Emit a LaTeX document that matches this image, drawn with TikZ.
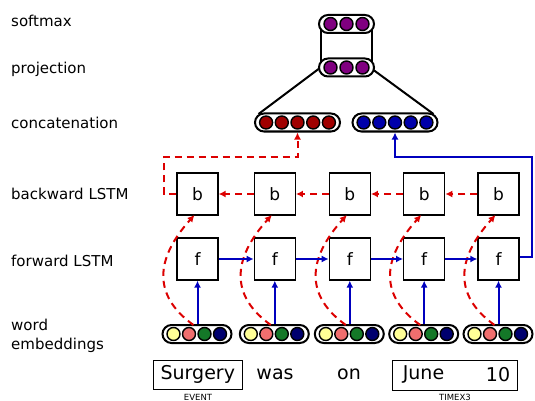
\documentclass[tikz,border=0pt]{standalone}
\usepackage{fontspec}
\setmainfont{DejaVu Sans}
\usetikzlibrary{shapes.misc,arrows.meta}
\definecolor{cpurple}{RGB}{128,0,128}
\definecolor{cdred}{RGB}{160,0,0}
\definecolor{cdblue}{RGB}{0,0,170}
\definecolor{cyel}{RGB}{255,255,150}
\definecolor{csalmon}{RGB}{240,110,110}
\definecolor{cgreen}{RGB}{20,120,40}
\definecolor{cnavy}{RGB}{0,0,110}
\definecolor{lblue}{RGB}{0,0,190}
\definecolor{lred}{RGB}{220,0,0}
\tikzset{
  lbl/.style={anchor=west, font=\fontsize{15}{20}\selectfont, inner sep=0pt, align=left},
  pill/.style={draw, line width=2pt, rounded rectangle, fill=white, minimum height=18pt, inner sep=0pt},
  dot/.style={circle, draw, line width=1.4pt, minimum size=13pt, inner sep=0pt},
  cell/.style={draw, line width=1.3pt, minimum width=41pt, minimum height=42pt, inner sep=0pt, font=\fontsize{17}{20}\selectfont},
  word/.style={inner sep=0pt, font=\fontsize{19}{22}\selectfont},
  wbox/.style={draw, line width=1pt, inner sep=0pt},
  tag/.style={inner sep=0pt, font=\fontsize{8.5}{10}\selectfont},
  fwd/.style={lblue, line width=2pt, -{Latex[length=7pt,width=7pt]}},
  bwd/.style={lred, line width=2pt, dash pattern=on 7pt off 5pt, -{Latex[length=7pt,width=7pt]}},
  link/.style={line width=2pt}
}
\begin{document}
\begin{tikzpicture}[x=1pt,y=-1pt]
\useasboundingbox (0,0) rectangle (535,401);
% labels
\node[lbl] (Lsoft) at (11,21) {softmax};
\node[lbl] (Lproj) at (11,69) {projection};
\node[lbl] (Lconc) at (11,123) {concatenation};
\node[lbl] (Lback) at (11,194) {backward LSTM};
\node[lbl] (Lfwd) at (11,261) {forward LSTM};
\node[lbl] (Lemb) at (11,336) {word\\[-1pt]embeddings};
% top links
\coordinate (sL) at (321,24);
\coordinate (sR) at (372,24);
\coordinate (pL) at (321,68);
\coordinate (pR) at (372,68);
\draw[link] (sL) -- (pL);
\draw[link] (sR) -- (pR);
\coordinate (pLo) at (318.5,69);
\coordinate (pRo) at (373.5,70);
\coordinate (cLt) at (258.5,114);
\coordinate (cRt) at (433.5,114);
\draw[link] (pLo) -- (cLt);
\draw[link] (pRo) -- (cRt);
% softmax and projection pills
\node[pill, minimum width=55pt] (soft) at (346.5,24) {};
\node[pill, minimum width=55pt] (proj) at (346.5,67.5) {};
\foreach \i/\dx in {1/-16,2/0,3/16} {
  \node[dot, fill=cpurple] (s\i) at (346.5+\dx,24) {};
  \node[dot, fill=cpurple] (p\i) at (346.5+\dx,67.5) {};
}
% concatenation pills
\node[pill, minimum width=85pt] (concL) at (297.5,122.5) {};
\node[pill, minimum width=85pt] (concR) at (395,122.5) {};
\foreach \i/\dx in {1/-31.4,2/-15.7,3/0,4/15.7,5/31.4} {
  \node[dot, fill=cdred] (cl\i) at (297.5+\dx,122.5) {};
  \node[dot, fill=cdblue] (cr\i) at (395+\dx,122.5) {};
}
% LSTM cells and embeddings
\foreach \i/\x in {1/197.5,2/274.8,3/349.8,4/424.2,5/498.5} {
  \node[cell] (b\i) at (\x,194) {b};
  \node[cell] (f\i) at (\x,259) {f};
  \node[pill, minimum width=69pt] (e\i) at (\x-0.5,334) {};
  \node[dot, fill=cyel] (e\i a) at (\x-24,334) {};
  \node[dot, fill=csalmon] (e\i b) at (\x-8.5,334) {};
  \node[dot, fill=cgreen] (e\i c) at (\x+7,334) {};
  \node[dot, fill=cnavy] (e\i d) at (\x+22.5,334) {};
  \draw[fwd] (e\i.north -| f\i.south) -- (f\i.south);
  \coordinate (es\i) at (\x-4,325);
  \coordinate (be\i) at (\x-3,215);
  \draw[bwd] (es\i) .. controls +(-35,-25) and +(-45,50) .. (be\i);
}
\foreach \i/\j in {1/2,2/3,3/4,4/5} {
  \draw[fwd] (f\i.east) -- (f\j.west);
  \draw[bwd] (b\j.west) -- (b\i.east);
}
% to concatenation
\coordinate (rc1) at (164,194);
\coordinate (rc2) at (164,157);
\coordinate (rc3) at (297.5,157);
\draw[bwd] (b1.west) -- (rc1) -- (rc2) -- (rc3) -- (concL.south);
\coordinate (bc1) at (532,257);
\coordinate (bc2) at (532,157);
\coordinate (bc3) at (395,157);
\draw[fwd] (f5.east |- bc1) -- (bc1) -- (bc2) -- (bc3) -- (concR.south);
% words
\node[wbox, minimum width=89pt, minimum height=29pt] (wb1) at (197.8,374.7) {};
\node[word] (w1) at (197.8,374.7) {Surgery};
\node[word] (w2) at (275,374.7) {was};
\node[word] (w3) at (349,374.7) {on};
\node[wbox, minimum width=125pt, minimum height=30pt] (wb2) at (454.8,375) {};
\node[word] (w4) at (423.5,374.7) {June};
\node[word] (w5) at (498,374.7) {10};
\node[tag] (t1) at (198,397) {EVENT};
\node[tag] (t2) at (455,397) {TIMEX3};
\end{tikzpicture}
\end{document}
